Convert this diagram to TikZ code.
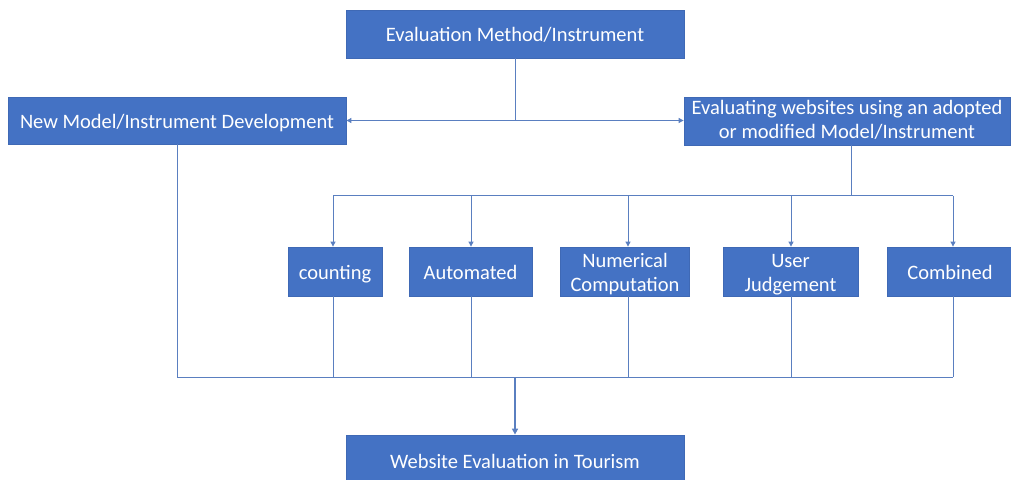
\documentclass[tikz,border=0pt]{standalone}
\usepackage{fontspec}
\setmainfont{Carlito}
\usetikzlibrary{arrows.meta}
\definecolor{boxblue}{HTML}{4472C4}
\definecolor{boxedge}{HTML}{3F69B5}
\definecolor{linec}{HTML}{5A7FC0}
\newcommand{\tallstrut}{\rule[-0.2em]{0pt}{1.15em}}
\tikzset{
  box/.style={draw=boxedge, line width=0.8pt, fill=boxblue, text=white, align=center,
    font=\fontsize{20.5}{24}\selectfont, inner sep=2pt,
    execute at begin node={\rule[-0.2em]{0pt}{1.15em}}},
  twoline/.style={inner ysep=0pt},
  conn/.style={draw=linec, line width=0.9pt},
  arr/.style={conn, -{Triangle[length=5pt,width=5pt]}},
}
\begin{document}
\begin{tikzpicture}[x=1pt,y=-1pt]
\useasboundingbox (0,0) rectangle (1011,479);
\clip (0,0) rectangle (1011,479);
\node[box, minimum width=338pt, minimum height=48pt] (top) at (515,34) {Evaluation Method/Instrument};
\node[box, minimum width=338pt, minimum height=47pt] (left) at (177,120.5) {New Model/Instrument Development};
\node[box, minimum width=326pt, minimum height=48pt] (right) at (847,121) {Evaluating websites using an adopted\\or modified Model/Instrument};
\node[box, minimum width=94pt, minimum height=49pt] (cnt) at (335,271.5) {counting};
\node[box, minimum width=123pt, minimum height=49pt] (aut) at (470.5,271.5) {Automated};
\node[box, twoline, minimum width=129pt, minimum height=49pt] (num) at (625,271.5) {\tallstrut Numerical\\Computation};
\node[box, twoline, minimum width=135pt, minimum height=49pt] (usr) at (790.5,271.5) {\tallstrut User\\Judgement};
\node[box, minimum width=125pt, minimum height=49pt] (cmb) at (950,271.5) {Combined};
\node[box, minimum width=338pt, minimum height=52pt] (bot) at (515,461) {Website Evaluation in Tourism};
% top split
\coordinate (split) at (515,120.5);
\draw[conn] (top.south) -- (split);
\draw[arr] (split) -- (left.east);
\draw[arr] (split) -- (right.west |- split);
% right stem and distribution bus
\coordinate (rs) at (851,195.5);
\draw[conn] (right.south -| rs) -- (rs);
\coordinate (busL) at (333,195.5);
\coordinate (busR) at (953,195.5);
\draw[conn] (busL) -- (busR);
\draw[arr] (busL) -- (busL |- cnt.north);
\draw[arr] (471,195.5) coordinate (b2) -- (b2 |- aut.north);
\draw[arr] (628,195.5) coordinate (b3) -- (b3 |- num.north);
\draw[arr] (791,195.5) coordinate (b4) -- (b4 |- usr.north);
\draw[arr] (busR) -- (busR |- cmb.north);
% collection bus
\coordinate (cL) at (177,377);
\coordinate (cR) at (953,377);
\draw[conn] (left.south) -- (cL) -- (cR);
\draw[conn] (333,296) coordinate (d1) -- (d1 |- cL);
\draw[conn] (471,296) coordinate (d2) -- (d2 |- cL);
\draw[conn] (628,296) coordinate (d3) -- (d3 |- cL);
\draw[conn] (791,296) coordinate (d4) -- (d4 |- cL);
\draw[conn] (953,296) coordinate (d5) -- (cR);
\coordinate (cm) at (515,377);
\draw[conn, line width=1.6pt, -{Triangle[length=6pt,width=6pt]}] (cm) -- (bot.north);
\end{tikzpicture}
\end{document}
